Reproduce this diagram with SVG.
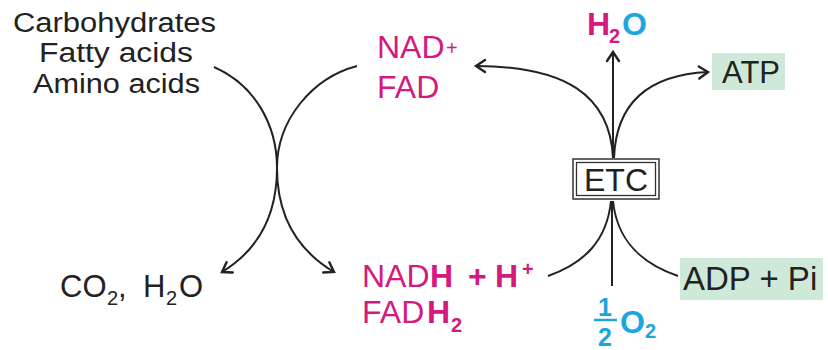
<svg xmlns="http://www.w3.org/2000/svg" width="828" height="350" viewBox="0 0 828 350">
<style>
text{font-family:"Liberation Sans",Arial,sans-serif;}
.k{fill:#222;}
.m{fill:#d4197f;}
.c{fill:#1ba6df;}
.b{font-weight:bold;}
.ln{fill:none;stroke:#222;stroke-width:2;}
.box{fill:#cfe9d8;}
</style>
<defs>
<marker id="ah" markerUnits="userSpaceOnUse" markerWidth="20" markerHeight="20" viewBox="-12 -10 14 20" refX="0" refY="0" orient="auto">
<path d="M-9,-6 Q-3,-2 0,0 Q-3,2 -9,6" fill="none" stroke="#222" stroke-width="2.4" stroke-linecap="round"/>
</marker>
</defs>
<rect width="828" height="350" fill="#fff"/>
<g id="connectors">
<path class="ln" d="M214,67 C255,85 277,125 277,168 C277,215 258,250 222,272" marker-end="url(#ah)"/>
<path class="ln" d="M357,66 C312,78 277,120 277,168 C277,215 297,250 334,272" marker-end="url(#ah)"/>
<path class="ln" d="M613,158 C610,95 565,66 476,66" marker-end="url(#ah)"/>
<path class="ln" d="M613,158 L613,52" marker-end="url(#ah)"/>
<path class="ln" d="M614,158 C616,105 645,75 708,72" marker-end="url(#ah)"/>
<path class="ln" d="M548,276 C585,263 607,240 611,201"/>
<path class="ln" d="M612,286 L612,201"/>
<path class="ln" d="M678,276 C640,263 617,240 613,201"/>
</g>
<g id="fuels">
<text class="k" x="13" y="32" font-size="27" textLength="203" lengthAdjust="spacingAndGlyphs">Carbohydrates</text>
<text class="k" x="39" y="62" font-size="27" textLength="154" lengthAdjust="spacingAndGlyphs">Fatty acids</text>
<text class="k" x="33" y="93" font-size="27" textLength="167" lengthAdjust="spacingAndGlyphs">Amino acids</text>
</g>
<g id="co2h2o">
<text class="k" y="297" font-size="31"><tspan x="60">CO</tspan><tspan x="107" y="305" font-size="20">2</tspan><tspan x="118" y="297">,</tspan><tspan x="143">H</tspan><tspan x="166" y="305" font-size="20">2</tspan><tspan x="179" y="297">O</tspan></text>
</g>
<g id="nad">
<text class="m" y="58" font-size="32"><tspan x="377">NAD</tspan><tspan x="446" y="55" font-size="20">+</tspan></text>
<text class="m" x="377" y="98" font-size="32">FAD</text>
</g>
<g id="nadh">
<text class="m" y="287" font-size="32"><tspan x="362">NAD</tspan><tspan class="b" x="430">H</tspan><tspan class="b" x="468">+</tspan><tspan class="b" x="495">H</tspan><tspan class="b" x="522" y="276" font-size="20">+</tspan></text>
<text class="m" y="323" font-size="32"><tspan x="362">FAD</tspan><tspan class="b" x="427">H</tspan><tspan class="b" x="451" y="332" font-size="20">2</tspan></text>
</g>
<g id="h2o">
<text class="b" y="35" font-size="32"><tspan class="m" x="587">H</tspan><tspan class="m" x="609" y="43" font-size="20">2</tspan><tspan class="c" x="622" y="35">O</tspan></text>
</g>
<g id="atp">
<rect class="box" x="712" y="53" width="73" height="37"/>
<text class="k" x="722" y="83" font-size="31">ATP</text>
</g>
<g id="etc">
<rect x="573" y="159" width="86" height="40" fill="#fff" stroke="#333" stroke-width="1.5"/>
<rect x="576.5" y="162.5" width="79" height="33" fill="none" stroke="#333" stroke-width="1.3"/>
<text class="k" x="616" y="190.5" font-size="32" text-anchor="middle">ETC</text>
</g>
<g id="adp">
<rect class="box" x="680" y="258" width="143" height="42"/>
<text class="k" x="683" y="290" font-size="33">ADP + Pi</text>
</g>
<g id="o2">
<text class="c b" x="605" y="316" font-size="25" text-anchor="middle">1</text>
<line x1="594" y1="320" x2="617" y2="320" stroke="#1ba6df" stroke-width="2.5"/>
<text class="c b" x="605" y="346" font-size="25" text-anchor="middle">2</text>
<text class="c b" y="333" font-size="32"><tspan x="620">O</tspan><tspan x="645" y="338" font-size="20">2</tspan></text>
</g>
</svg>
